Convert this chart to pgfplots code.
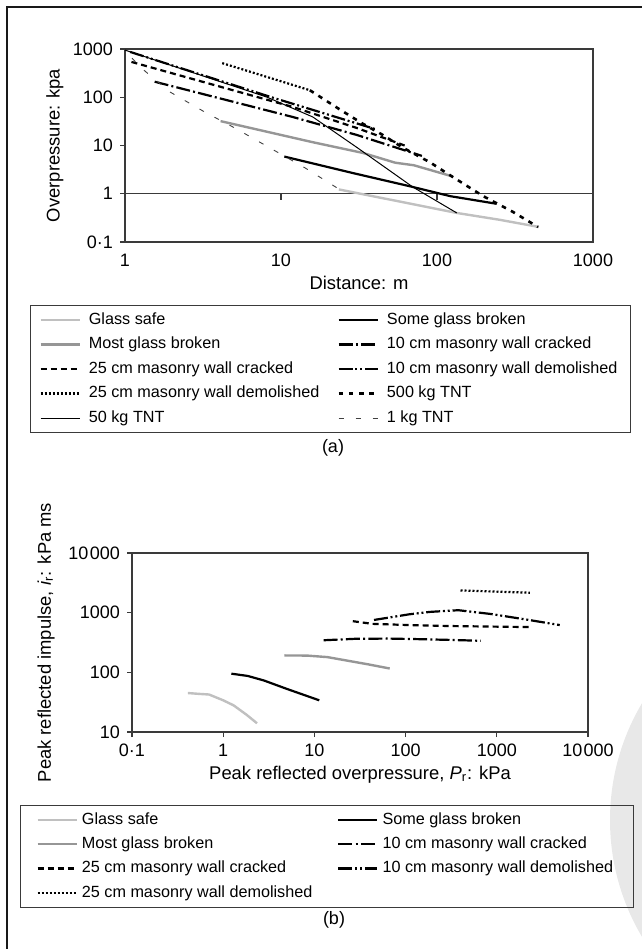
\documentclass[border=0pt]{standalone}
\usepackage{fontspec}
\setmainfont{Liberation Sans}
\usepackage{pgfplots}
\pgfplotsset{compat=1.18}

\definecolor{GlassSafe}{HTML}{C0C0C0}
\definecolor{MostGlass}{HTML}{969696}
\definecolor{FrameGrey}{HTML}{3A3A3A}
\definecolor{PageGrey}{HTML}{E8E8E8}

\tikzset{
  gsafe/.style={GlassSafe,line width=1.2pt},
  gsome/.style={black,line width=1.1pt},
  gmost/.style={MostGlass,line width=1.2pt},
  tencr/.style={black,line width=1.1pt,dash pattern=on 7pt off 1.6pt on 1pt off 1.6pt},
  twfcr/.style={black,line width=1.1pt,dash pattern=on 3pt off 2pt},
  tende/.style={black,line width=1.1pt,dash pattern=on 7pt off 1.4pt on 1pt off 1.4pt on 1pt off 1.4pt},
  twfde/.style={black,line width=1.1pt,dash pattern=on 1pt off 1pt},
}

\pgfplotsset{
  every axis/.append style={
    scale only axis,
    xminorticks=false, yminorticks=false,
    axis line style={FrameGrey,line width=0.6pt},
    tick style={FrameGrey,line width=0.6pt},
    tick align=outside, major tick length=2.5pt, tick pos=left,
    /pgf/number format/assume math mode=true,
    tick label style={font=\fontsize{9}{10}\selectfont},
    label style={font=\fontsize{9.2}{11}\selectfont},
    legend columns=2, legend cell align=left,
    legend style={font=\fontsize{8.1}{9.5}\selectfont,draw=FrameGrey,line width=0.5pt,
      fill=none,anchor=north west,inner ysep=1.5pt},
  },
  legend image code/.code={\draw[#1] (0pt,0pt) -- (19.5pt,0pt);},
}

\begin{document}
\begin{tikzpicture}
\useasboundingbox (0,0) rectangle (321pt,-474.5pt);
\begin{scope}
\clip (0,0) rectangle (321pt,-474.5pt);
\fill[PageGrey] (419.5pt,-410pt) circle (114.5pt);
\end{scope}
\draw[black!90,line width=1pt] (3.5pt,-474.5pt) -- (3.5pt,-3.5pt) -- (321pt,-3.5pt);

% (a) overpressure against distance
\begin{loglogaxis}[
  at={(62.5pt,-121pt)}, anchor=south west,
  width=234pt, height=96.5pt,
  xmin=1, xmax=1000, ymin=0.1, ymax=1000,
  xtick={1,10,100,1000}, xticklabels={1,10,100,1000},
  ytick={0.1,1,10,100,1000}, yticklabels={0·1,1,10,100,1000},
  x tick style={draw=none},
  xlabel={Distance: m}, ylabel={Overpressure: kpa},
  xlabel style={at={(axis description cs:0.5,-0.2124)},anchor=center},
  ylabel style={at={(axis description cs:-0.1496,0.5)},anchor=center},
  legend style={at={(-0.2030,-0.3264)},inner xsep=4.5pt,row sep=0.9pt,
    /tikz/every odd column/.append style={column sep=2pt},
    /tikz/every even column/.append style={column sep=7pt}},
]
\draw[FrameGrey,line width=0.6pt] (axis cs:1,1) -- (axis cs:1000,1);
\draw[FrameGrey,line width=0.6pt] (axis cs:10,1) -- ++(0pt,-3pt);
\draw[FrameGrey,line width=0.6pt] (axis cs:100,1) -- ++(0pt,-3pt);
\addplot[gsafe] coordinates {(23.5,1.23) (134,0.40) (250,0.29) (450,0.205)};
\addlegendentry{Glass safe}
\addplot[gsome] coordinates {(10.5,5.9) (28.7,2.7) (67,1.43) (122,0.89) (241,0.62)};
\addlegendentry{Some glass broken}
\addplot[gmost] coordinates {(4.1,32) (15.8,11.8) (33.6,7.0) (54,4.4) (71,3.9) (125,2.3)};
\addlegendentry{Most glass broken}
\addplot[tencr] coordinates {(1.55,210) (11.9,39) (30.7,16.5) (80,6.1)};
\addlegendentry{10 cm masonry wall cracked}
\addplot[twfcr] coordinates {(1.1,540) (11.9,63) (30.7,23) (62,10)};
\addlegendentry{25 cm masonry wall cracked}
\addplot[tende] coordinates {(1.08,870) (8.7,100) (41,21.5)};
\addlegendentry{10 cm masonry wall demolished}
\addplot[twfde] coordinates {(4.2,510) (15.3,140)};
\addlegendentry{25 cm masonry wall demolished}
\addplot[black,line width=1.3pt,dash pattern=on 2.3pt off 2.8pt] coordinates {(15.3,140) (24,55) (33,29) (45,16.5) (60.5,9) (90,4.5) (127,2.2) (197,0.9) (307,0.42) (444,0.205)};
\addlegendentry{500 kg TNT}
\addplot[black,line width=0.5pt] coordinates {(1,950) (8.1,101) (16,39) (31,8.9) (70,1.38) (134,0.40)};
\addlegendentry{50 kg TNT}
\addplot[black!75,line width=0.45pt,dash pattern=on 2.5pt off 6pt] coordinates {(1.11,646) (1.25,424) (1.94,129) (3.26,49) (5.07,23) (8.3,9.3) (14.3,3.42) (22.9,1.32)};
\addlegendentry{1 kg TNT}
\end{loglogaxis}
\node[font=\fontsize{9}{10}\selectfont] at (166.5pt,-224pt) {(a)};

% (b) reflected impulse against reflected overpressure
\begin{loglogaxis}[
  at={(66pt,-366pt)}, anchor=south west,
  width=228pt, height=89.5pt,
  xmin=0.1, xmax=10000, ymin=10, ymax=10000,
  xtick={0.1,1,10,100,1000,10000}, xticklabels={0·1,1,10,100,1000,10\hspace{0.08em}000},
  ytick={10,100,1000,10000}, yticklabels={10,100,1000,10\hspace{0.08em}000},
  xlabel={Peak reflected overpressure, \textit{P}\textsubscript{r}: kPa},
  ylabel={Peak reflected impulse, \textit{i}\textsubscript{r}: kPa ms},
  xlabel style={at={(axis description cs:0.5,-0.240)},anchor=center},
  ylabel style={at={(axis description cs:-0.1886,0.5)},anchor=center},
  legend style={at={(-0.2456,-0.4078)},inner xsep=8pt,row sep=0.8pt,
    /tikz/every even column/.append style={column sep=10.5pt}},
]
\addplot[gsafe] coordinates {(0.41,45) (0.55,43.5) (0.7,42.5) (1.0,34) (1.3,28) (1.8,19.5) (2.35,14)};
\addlegendentry{Glass safe}
\addplot[gsome] coordinates {(1.23,95) (1.86,87) (2.8,73) (4.95,53) (11.3,34)};
\addlegendentry{Some glass broken}
\addplot[gmost] coordinates {(4.7,192) (8.3,191) (13.9,180) (23,157) (39,136) (67,116)};
\addlegendentry{Most glass broken}
\addplot[tencr] coordinates {(12.6,345) (28,365) (65,368) (140,360) (300,350) (670,338)};
\addlegendentry{10 cm masonry wall cracked}
\addplot[twfcr] coordinates {(26.4,720) (43,650) (110,620) (310,597) (2260,574)};
\addlegendentry{25 cm masonry wall cracked}
\addplot[tende] coordinates {(45,755) (110,940) (184,1030) (379,1100) (864,950) (2190,760) (4900,620)};
\addlegendentry{10 cm masonry wall demolished}
\addplot[twfde] coordinates {(400,2360) (2300,2160)};
\addlegendentry{25 cm masonry wall demolished}
\end{loglogaxis}
\node[font=\fontsize{9}{10}\selectfont] at (167pt,-460pt) {(b)};
\end{tikzpicture}
\end{document}
